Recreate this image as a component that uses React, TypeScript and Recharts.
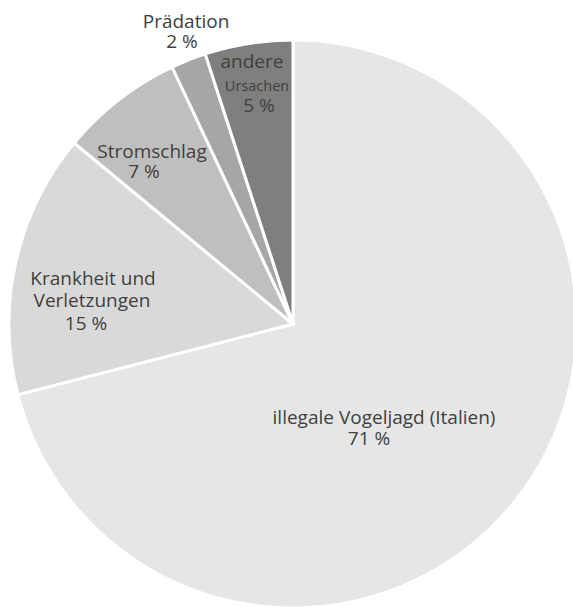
import React from "react";
import { PieChart, Pie, Cell } from "recharts";

const categories = [
  "illegale Vogeljagd (Italien)",
  "Krankheit und Verletzungen",
  "Stromschlag",
  "Prädation",
  "andere Ursachen",
];
const values = [71, 15, 7, 2, 5];
const colors = ["#e6e6e6", "#d9d9d9", "#bfbfbf", "#a6a6a6", "#7f7f7f"];

const data = categories.map((name, i) => ({ name, value: values[i] }));

// label layout relative to the pie centre: each line [text, dx, dy, fontSize]
const labelLayout: Record<string, [string, number, number, number][]> = {
  "illegale Vogeljagd (Italien)": [
    ["illegale Vogeljagd (Italien)", 91, 100, 19],
    ["71 %", 76, 121, 19],
  ],
  "Krankheit und Verletzungen": [
    ["Krankheit und", -200, -39, 19],
    ["Verletzungen", -201, -17, 19],
    ["15 %", -207, 6, 19],
  ],
  Stromschlag: [
    ["Stromschlag", -141, -166, 19],
    ["7 %", -149, -146, 19],
  ],
  "Prädation": [
    ["Prädation", -107, -296, 19],
    ["2 %", -111, -276, 19],
  ],
  "andere Ursachen": [
    ["andere", -41, -256, 19],
    ["Ursachen", -36, -233, 14.5],
    ["5 %", -34, -212, 19],
  ],
};

const renderLabel = (props: any) => {
  const { cx, cy, name } = props;
  const lines = labelLayout[name] || [];
  return (
    <text
      textAnchor="middle"
      fill="#404040"
      fontFamily="'Open Sans', 'Noto Sans', sans-serif"
    >
      {lines.map(([t, dx, dy, fs], i) => (
        <tspan key={i} x={cx + dx} y={cy + dy} fontSize={fs}>
          {t}
        </tspan>
      ))}
    </text>
  );
};

export default function App() {
  return (
    <div
      style={{
        position: "fixed",
        left: 0,
        top: 0,
        width: 573,
        height: 607,
        overflow: "hidden",
        background: "#ffffff",
      }}
    >
      <PieChart width={573} height={607} margin={{ top: 0, right: 0, bottom: 0, left: 0 }}>
        <Pie
          data={data}
          dataKey="value"
          nameKey="name"
          cx={293}
          cy={324}
          innerRadius={0}
          outerRadius={284}
          startAngle={90}
          endAngle={-270}
          stroke="#ffffff"
          strokeWidth={3}
          label={renderLabel}
          labelLine={false}
          isAnimationActive={false}
        >
          {data.map((d, i) => (
            <Cell key={d.name} fill={colors[i]} />
          ))}
        </Pie>
      </PieChart>
    </div>
  );
}
